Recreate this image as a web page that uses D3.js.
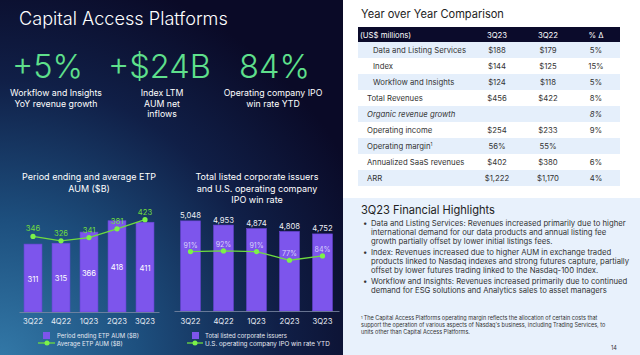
<!DOCTYPE html>
<html><head><meta charset="utf-8">
<script src="https://cdn.jsdelivr.net/npm/d3@7"></script>
<style>
html,body{margin:0;padding:0;background:#fff;}
svg{display:block;font-family:Inter,"Noto Sans",Arial,sans-serif;}
</style></head>
<body><svg id="c" width="640" height="355"></svg>
<script>
// ---------- DATA ----------
const quarters = ["3Q22","4Q22","1Q23","2Q23","3Q23"];
const etpPeriodEnd = [311,315,366,418,411];
const etpAverage = [346,326,341,381,423];
const listedIssuers = [5048,4953,4874,4808,4752];
const ipoWinRate = [91,92,91,77,84];

const kpiValues = ["+5%","+$24B","84%"];
const kpiLabels = [["Workflow and Insights","YoY revenue growth"],["Index LTM","AUM net","inflows"],["Operating company IPO","win rate YTD"]];

const tableHeader = ["(US$ millions)","3Q23","3Q22","% Δ"];
const rowLabels = ["Data and Listing Services","Index","Workflow and Insights","Total Revenues","Organic revenue growth","Operating income","Operating margin","Annualized SaaS revenues","ARR"];
const col3Q23 = ["$188","$144","$124","$456","","$254","56%","$402","$1,222"];
const col3Q22 = ["$179","$125","$118","$422","","$233","55%","$380","$1,170"];
const colPct = ["5%","15%","5%","8%","8%","9%","","6%","4%"];

const bullets = [
 ["Data and Listing Services: Revenues increased primarily due to higher","international demand for our data products and annual listing fee","growth partially offset by lower initial listings fees."],
 ["Index: Revenues increased due to higher AUM in exchange traded","products linked to Nasdaq indexes and strong futures capture, partially","offset by lower futures trading linked to the Nasdaq-100 Index."],
 ["Workflow and Insights: Revenues increased primarily due to continued","demand for ESG solutions and Analytics sales to asset managers"]
];
const footnote = ["The Capital Access Platforms operating margin reflects the allocation of certain costs that","support the operation of various aspects of Nasdaq's business, including Trading Services, to","units other than Capital Access Platforms."];

// ---------- DRAW ----------
const svg = d3.select("#c");
// font size that makes a sample text reach a given width
function fit(sample, width, weight, style){
  const t = svg.append("text").attr("font-size",100).attr("font-weight",weight||400).attr("font-style",style||"normal").text(sample);
  const w = t.node().getComputedTextLength(); t.remove();
  return 100*width/w;
}
const defs = svg.append("defs");
const rg = defs.append("radialGradient").attr("id","bg").attr("gradientUnits","userSpaceOnUse")
  .attr("cx",0).attr("cy",360).attr("r",400);
rg.append("stop").attr("offset",0).attr("stop-color","#3379a8");
rg.append("stop").attr("offset",0.35).attr("stop-color","#1d4f7e");
rg.append("stop").attr("offset",0.7).attr("stop-color","#101f47");
rg.append("stop").attr("offset",1).attr("stop-color","#0a0a27");

svg.append("rect").attr("x",0).attr("y",0).attr("width",343).attr("height",355).attr("fill","url(#bg)");
svg.append("rect").attr("x",343).attr("y",0).attr("width",297).attr("height",355).attr("fill","#ffffff");

const GREEN = "#5fe08c", PURPLE = "#7d55ec", LINE = "#6fdc3f", DOT = "#7cf24a";

const fsTitle = fit("Capital Access Platforms",209,300);
svg.append("text").attr("x",19).attr("y",25).attr("fill","#fff").attr("font-size",fsTitle).attr("font-weight",300)
  .text("Capital Access Platforms");

const fsKpi = fit("+$24B",103,300);
const fsKpiL = fit("Workflow and Insights",92);
const kpiX = [47.5,159.5,274.5];
const kpiLX = [56,162,273];
kpiValues.forEach((v,i)=>{
  svg.append("text").attr("x",kpiX[i]).attr("y",78).attr("text-anchor","middle").attr("fill",GREEN)
    .attr("font-size",fsKpi).attr("font-weight",300).text(v);
  kpiLabels[i].forEach((l,j)=>{
    svg.append("text").attr("x",kpiLX[i]).attr("y",96+j*10.5).attr("text-anchor","middle")
      .attr("fill","#fff").attr("font-size",fsKpiL).text(l);
  });
});

const fsChartT = fit("Period ending and average ETP",134);
const fsTick = fit("3Q22",20);
const fsVal = fit("5,048",21);
const fsLeg = fit("Period ending ETP AUM ($B)",82);

// ---- Chart 1 ----
const x1 = d3.scaleBand().domain(quarters).range([19,159]).paddingInner(0.36).paddingOuter(0.18);
const y1 = d3.scaleLinear().domain([0,490]).range([312,205]);
const g1 = svg.append("g");
["Period ending and average ETP","AUM ($B)"].forEach((t,i)=>
  g1.append("text").attr("x",89).attr("y",180+i*11.5).attr("text-anchor","middle").attr("fill","#fff").attr("font-size",fsChartT).text(t));
g1.selectAll("rect.b").data(etpPeriodEnd).join("rect").attr("class","b")
  .attr("x",(d,i)=>x1(quarters[i])).attr("width",x1.bandwidth())
  .attr("y",d=>y1(d)).attr("height",d=>y1(0)-y1(d)).attr("fill",PURPLE).attr("stroke","#6a45d8").attr("stroke-width",0.6);
g1.selectAll("text.bv").data(etpPeriodEnd).join("text").attr("class","bv")
  .attr("x",(d,i)=>x1(quarters[i])+x1.bandwidth()/2).attr("y",d=>(y1(d)+y1(0))/2+3.5)
  .attr("text-anchor","middle").attr("fill","#fff").attr("font-size",fsVal).text(d=>d);
const ax1 = g1.append("g").attr("transform",`translate(0,${y1(0)})`).call(d3.axisBottom(x1).tickSize(0).tickPadding(7));
ax1.select(".domain").attr("stroke","#7d8aa6").attr("stroke-width",0.8);
ax1.selectAll("text").attr("fill","#e8ecf4").attr("font-size",fsTick).attr("font-family","Inter");
const line1 = d3.line().x((d,i)=>x1(quarters[i])+x1.bandwidth()/2).y(d=>y1(d));
g1.append("path").datum(etpAverage).attr("d",line1).attr("fill","none").attr("stroke",LINE).attr("stroke-width",1.3);
g1.selectAll("circle").data(etpAverage).join("circle").attr("cx",(d,i)=>x1(quarters[i])+x1.bandwidth()/2)
  .attr("cy",d=>y1(d)).attr("r",2.6).attr("fill",DOT);
g1.selectAll("text.lv").data(etpAverage).join("text").attr("class","lv")
  .attr("x",(d,i)=>x1(quarters[i])+x1.bandwidth()/2).attr("y",d=>y1(d)-5)
  .attr("text-anchor","middle").attr("fill",LINE).attr("font-size",fsVal).text(d=>d);
// legend 1
g1.append("rect").attr("x",43).attr("y",332).attr("width",7).attr("height",7).attr("fill",PURPLE);
g1.append("text").attr("x",57).attr("y",338).attr("fill","#e6e9f2").attr("font-size",fsLeg).text("Period ending ETP AUM ($B)");
g1.append("line").attr("x1",38).attr("x2",55).attr("y1",343).attr("y2",343).attr("stroke",LINE).attr("stroke-width",1.3);
g1.append("circle").attr("cx",47).attr("cy",343).attr("r",2.5).attr("fill",DOT);
g1.append("text").attr("x",57).attr("y",346).attr("fill","#e6e9f2").attr("font-size",fsLeg).text("Average ETP AUM ($B)");

// ---- Chart 2 ----
const x2 = d3.scaleBand().domain(quarters).range([174,339]).paddingInner(0.4).paddingOuter(0.2);
const y2 = d3.scaleLinear().domain([3000,5500]).range([311,201]);
const y2r = d3.scaleLinear().domain([0,100]).range([308,246]);
const g2 = svg.append("g");
["Total listed corporate issuers","and U.S. operating company","IPO win rate"].forEach((t,i)=>
  g2.append("text").attr("x",257).attr("y",180+i*11.5).attr("text-anchor","middle").attr("fill","#fff").attr("font-size",fsChartT).text(t));
g2.selectAll("rect.b").data(listedIssuers).join("rect").attr("class","b")
  .attr("x",(d,i)=>x2(quarters[i])).attr("width",x2.bandwidth())
  .attr("y",d=>y2(d)).attr("height",d=>y2(3000)-y2(d)).attr("fill",PURPLE).attr("stroke","#6a45d8").attr("stroke-width",0.6);
g2.selectAll("text.bv").data(listedIssuers).join("text").attr("class","bv")
  .attr("x",(d,i)=>x2(quarters[i])+x2.bandwidth()/2).attr("y",d=>y2(d)-2.5)
  .attr("text-anchor","middle").attr("fill","#eef0f6").attr("font-size",fsVal).text(d=>d3.format(",")(d));
const ax2 = g2.append("g").attr("transform",`translate(0,${y2(3000)})`).call(d3.axisBottom(x2).tickSize(0).tickPadding(8));
ax2.select(".domain").attr("stroke","#7d8aa6").attr("stroke-width",0.8);
ax2.selectAll("text").attr("fill","#e8ecf4").attr("font-size",fsTick).attr("font-family","Inter");
const line2 = d3.line().x((d,i)=>x2(quarters[i])+x2.bandwidth()/2).y(d=>y2r(d));
g2.append("path").datum(ipoWinRate).attr("d",line2).attr("fill","none").attr("stroke",LINE).attr("stroke-width",1.3);
g2.selectAll("circle").data(ipoWinRate).join("circle").attr("cx",(d,i)=>x2(quarters[i])+x2.bandwidth()/2)
  .attr("cy",d=>y2r(d)).attr("r",2.6).attr("fill",DOT);
g2.selectAll("text.lv").data(ipoWinRate).join("text").attr("class","lv")
  .attr("x",(d,i)=>x2(quarters[i])+x2.bandwidth()/2).attr("y",d=>y2r(d)-4)
  .attr("text-anchor","middle").attr("fill","#d9d2fb").attr("font-size",fsVal*0.92).text(d=>d+"%");
g2.append("rect").attr("x",192).attr("y",332).attr("width",7).attr("height",7).attr("fill",PURPLE);
g2.append("text").attr("x",205).attr("y",338).attr("fill","#e6e9f2").attr("font-size",fsLeg).text("Total listed corporate issuers");
g2.append("line").attr("x1",187).attr("x2",203).attr("y1",343).attr("y2",343).attr("stroke",LINE).attr("stroke-width",1.3);
g2.append("circle").attr("cx",195).attr("cy",343).attr("r",2.5).attr("fill",DOT);
g2.append("text").attr("x",205).attr("y",346).attr("fill","#e6e9f2").attr("font-size",fit("U.S. operating company  IPO win rate YTD",125)).text("U.S. operating company  IPO win rate YTD");

// ---- Table ----
const gt = svg.append("g");
gt.append("text").attr("x",361).attr("y",18).attr("fill","#222").attr("font-size",fit("Year over Year Comparison",143)).text("Year over Year Comparison");
const fsTab = fit("Data and Listing Services",93);
const tx0 = 358, tx1 = 620, colX = [497,548,596];
gt.append("rect").attr("x",tx0).attr("y",27).attr("width",tx1-tx0).attr("height",15).attr("fill","#0b0b2b");
tableHeader.forEach((h,i)=>{
  gt.append("text").attr("x",i===0?360:colX[i-1]).attr("y",37.5).attr("text-anchor",i===0?"start":"middle")
    .attr("fill","#fff").attr("font-size",fsTab).text(h);
});
rowLabels.forEach((l,i)=>{
  const y = 42+i*16;
  if(i%2===0) gt.append("rect").attr("x",tx0).attr("y",y).attr("width",tx1-tx0).attr("height",16).attr("fill","#e5effb");
  const t = gt.append("text").attr("x",i<3?373:367).attr("y",y+11).attr("fill","#333").attr("font-size",fsTab)
    .attr("font-style",l.startsWith("Organic")?"italic":"normal").text(l);
  if(l==="Operating margin") t.append("tspan").attr("font-size",fsTab*0.6).attr("dy",-3).text("1");
  [col3Q23[i],col3Q22[i],colPct[i]].forEach((v,k)=>{
    gt.append("text").attr("x",colX[k]).attr("y",y+11).attr("text-anchor","middle").attr("fill","#333")
      .attr("font-size",fsTab).attr("font-style",l.startsWith("Organic")?"italic":"normal").text(v);
  });
});

// ---- Highlights ----
const gh = svg.append("g");
gh.append("rect").attr("x",343).attr("y",198).attr("width",297).attr("height",157).attr("fill","#e8f1fc");
gh.append("text").attr("x",361).attr("y",214).attr("fill","#222").attr("font-size",fit("3Q23 Financial Highlights",134)).text("3Q23 Financial Highlights");
const fsB = fit(bullets[0][0],255);
let by = 226;
bullets.forEach(b=>{
  gh.append("text").attr("x",363).attr("y",by).attr("fill","#333").attr("font-size",fsB).text("•");
  b.forEach((ln,j)=>{
    gh.append("text").attr("x",371).attr("y",by+j*8.8).attr("fill","#333").attr("font-size",fsB).text(ln);
  });
  by += b.length*8.8+2.6;
});
const fsF = fit(footnote[0],234);
footnote.forEach((ln,j)=>{
  const t = gh.append("text").attr("x",361).attr("y",320+j*7.2).attr("fill","#333").attr("font-size",fsF);
  if(j===0){ t.append("tspan").attr("font-size",fsF*0.7).attr("dy",-1.5).text("1 "); t.append("tspan").attr("dy",1.5).text(ln);} else t.text(ln);
});
gh.append("text").attr("x",611).attr("y",350).attr("fill","#333").attr("font-size",5.5).text("14");
</script></body></html>
